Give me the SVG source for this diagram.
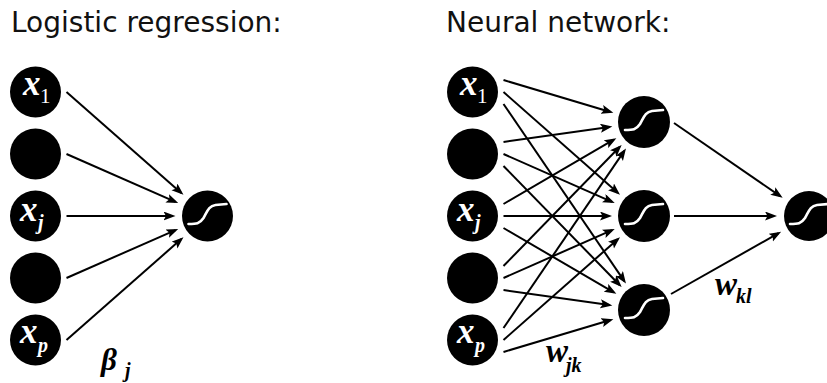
<svg xmlns="http://www.w3.org/2000/svg" xmlns:xlink="http://www.w3.org/1999/xlink" width="827" height="383" viewBox="0 0 827 383">
<style>
.title{font-family:"DejaVu Sans",sans-serif;font-size:28px;fill:#111}
.node{fill:#000}
.var{font-family:"Liberation Serif","DejaVu Serif",serif;font-style:italic;font-weight:bold;font-size:35px;fill:#fff}
.sub{font-family:"Liberation Serif","DejaVu Serif",serif;font-style:italic;font-weight:bold;font-size:20px;fill:#fff}
.subn{font-family:"Liberation Serif","DejaVu Serif",serif;font-size:21px;fill:#fff}
.wt{font-family:"Liberation Serif","DejaVu Serif",serif;font-style:italic;font-weight:bold;font-size:33px;fill:#000}
.wsub{font-family:"Liberation Serif","DejaVu Serif",serif;font-style:italic;font-weight:bold;font-size:20px;fill:#000}
.edge{stroke:#000;stroke-width:2;fill:none;marker-end:url(#arr)}
.sig{stroke:#fff;stroke-width:2.6;fill:none;stroke-linecap:round}
</style>
<defs>
<marker id="arr" markerUnits="userSpaceOnUse" markerWidth="13" markerHeight="10" refX="9" refY="4.5" orient="auto">
<path d="M0,0 L12,4.5 L0,9 L2.5,4.5 Z" fill="#000"/>
</marker>
<path id="sigc" class="sig" d="M-19,8 C-11,8 -8,8 -4,2 C0,-5 1,-10 8,-11 L19,-12"/>
</defs>

<text class="title" x="11" y="32">Logistic regression:</text>
<text class="title" x="446" y="32">Neural network:</text>

<g id="connectors">
<line class="edge" x1="66.5" y1="92" x2="181.22" y2="192.89"/>
<line class="edge" x1="66.5" y1="154" x2="175.46" y2="201.91"/>
<line class="edge" x1="66.5" y1="216" x2="172.5" y2="216"/>
<line class="edge" x1="66.5" y1="278" x2="175.46" y2="230.09"/>
<line class="edge" x1="66.5" y1="340" x2="181.22" y2="239.11"/>

<line class="edge" x1="503.5" y1="80" x2="610.47" y2="111.98"/>
<line class="edge" x1="503.5" y1="92" x2="617.76" y2="192.84"/>
<line class="edge" x1="503.5" y1="104" x2="624.28" y2="281.09"/>
<line class="edge" x1="503.5" y1="142" x2="609.35" y2="126.93"/>
<line class="edge" x1="503.5" y1="154" x2="611.98" y2="201.87"/>
<line class="edge" x1="503.5" y1="166" x2="619.56" y2="284.95"/>
<line class="edge" x1="503.5" y1="204" x2="613.77" y2="139.64"/>
<line class="edge" x1="503.5" y1="216" x2="609" y2="216"/>
<line class="edge" x1="503.5" y1="228" x2="613.77" y2="292.36"/>
<line class="edge" x1="503.5" y1="266" x2="619.56" y2="147.05"/>
<line class="edge" x1="503.5" y1="278" x2="611.98" y2="230.13"/>
<line class="edge" x1="503.5" y1="290" x2="609.35" y2="305.07"/>
<line class="edge" x1="503.5" y1="328" x2="624.28" y2="150.91"/>
<line class="edge" x1="503.5" y1="340" x2="617.76" y2="239.16"/>
<line class="edge" x1="503.5" y1="352" x2="610.47" y2="320.02"/>

<line class="edge" x1="674" y1="123" x2="780.18" y2="196.14"/>
<line class="edge" x1="674" y1="216" x2="774" y2="216"/>
<line class="edge" x1="671" y1="294" x2="778.53" y2="233.22"/>
</g>

<!-- Logistic regression nodes -->
<g id="lr-x1"><circle class="node" cx="35.5" cy="92" r="25.5"/><text class="var" x="23" y="95">x</text><text class="subn" x="40" y="103">1</text></g>
<g id="lr-x2"><circle class="node" cx="35.5" cy="154" r="25.5"/></g>
<g id="lr-xj"><circle class="node" cx="35.5" cy="216" r="25.5"/><text class="var" x="20" y="221">x</text><text class="sub" x="38" y="229">j</text></g>
<g id="lr-x4"><circle class="node" cx="35.5" cy="278" r="25.5"/></g>
<g id="lr-xp"><circle class="node" cx="35.5" cy="340" r="25.5"/><text class="var" x="20" y="343">x</text><text class="sub" x="38" y="352">p</text></g>
<g id="lr-out"><circle class="node" cx="207.5" cy="216" r="25.5"/><use xlink:href="#sigc" href="#sigc" x="207.5" y="216"/></g>
<g id="lr-beta"><text class="wt" x="101" y="370" style="font-size:31px">β</text><text class="wsub" x="125" y="377">j</text></g>

<!-- Neural network nodes -->
<g id="nn-x1"><circle class="node" cx="472.5" cy="92" r="25.5"/><text class="var" x="460" y="95">x</text><text class="subn" x="477" y="103">1</text></g>
<g id="nn-x2"><circle class="node" cx="472.5" cy="154" r="25.5"/></g>
<g id="nn-xj"><circle class="node" cx="472.5" cy="216" r="25.5"/><text class="var" x="457" y="221">x</text><text class="sub" x="475" y="229">j</text></g>
<g id="nn-x4"><circle class="node" cx="472.5" cy="278" r="25.5"/></g>
<g id="nn-xp"><circle class="node" cx="472.5" cy="340" r="25.5"/><text class="var" x="457" y="343">x</text><text class="sub" x="475" y="352">p</text></g>
<g id="nn-h1"><circle class="node" cx="644" cy="122" r="26"/><use xlink:href="#sigc" href="#sigc" x="644" y="122"/></g>
<g id="nn-h2"><circle class="node" cx="644" cy="216" r="26"/><use xlink:href="#sigc" href="#sigc" x="644" y="216"/></g>
<g id="nn-h3"><circle class="node" cx="644" cy="310" r="26"/><use xlink:href="#sigc" href="#sigc" x="644" y="310"/></g>
<g id="nn-out"><circle class="node" cx="809" cy="216" r="25"/><use xlink:href="#sigc" href="#sigc" x="809" y="216"/></g>
<g id="nn-wjk"><text class="wt" x="546" y="362">w</text><text class="wsub" x="566" y="372">jk</text></g>
<g id="nn-wkl"><text class="wt" x="715" y="295">w</text><text class="wsub" x="736" y="303">kl</text></g>
</svg>
